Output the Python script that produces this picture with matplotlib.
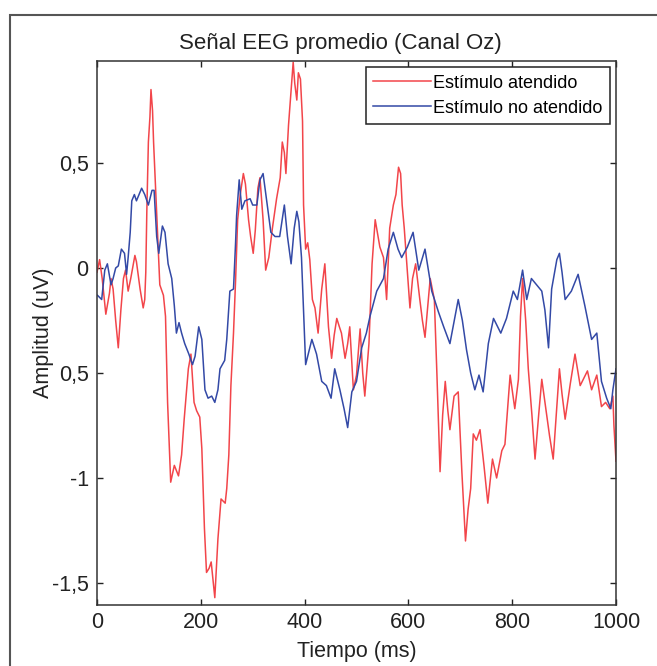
import matplotlib
matplotlib.use("Agg")
import matplotlib.pyplot as plt
from matplotlib.patches import Rectangle

plt.rcParams["font.family"] = ["Liberation Sans", "DejaVu Sans"]

# grand-average EEG, channel Oz (time in ms, amplitude in uV)
t_att = [0, 5, 10, 17, 24, 27, 31, 36, 41, 46, 51, 55, 60, 65, 73, 76, 83, 89, 92, 94,
         96, 99, 102, 104, 107, 109, 112, 115, 118, 121, 128, 132, 136, 142, 149, 157, 163, 168, 176, 181,
         187, 192, 198, 202, 207, 211, 216, 220, 224, 227, 233, 239, 247, 250, 254, 258, 263, 267, 271, 276,
         282, 286, 292, 296, 301, 305, 310, 314, 320, 325, 331, 338, 346, 353, 357, 361, 364, 369, 374, 378,
         381, 385, 388, 392, 396, 398, 402, 406, 410, 415, 420, 426, 433, 439, 446, 452, 457, 462, 467, 471,
         478, 483, 487, 494, 500, 507, 512, 516, 524, 530, 536, 545, 552, 558, 564, 571, 576, 581, 585, 588,
         592, 597, 603, 608, 614, 622, 627, 632, 642, 650, 655, 661, 666, 671, 676, 680, 688, 696, 703, 710,
         715, 720, 725, 731, 738, 746, 753, 762, 770, 780, 786, 796, 805, 812, 816, 820, 826, 831, 838, 844,
         851, 857, 866, 872, 879, 891, 896, 902, 912, 921, 931, 945, 953, 963, 972, 980, 988, 994, 996, 1000]
v_att = [-0.02, 0.04, -0.05, -0.22, -0.12, -0.05, -0.10, -0.25, -0.38, -0.20, -0.05, -0.01, -0.11, -0.05, 0.06, 0.03, -0.10, -0.19, -0.15, -0.02,
         0.27, 0.60, 0.72, 0.85, 0.75, 0.60, 0.43, 0.27, 0.09, -0.08, -0.13, -0.23, -0.64, -1.02, -0.94, -0.99, -0.89, -0.72, -0.48, -0.41,
         -0.64, -0.68, -0.71, -0.86, -1.24, -1.45, -1.43, -1.40, -1.50, -1.57, -1.29, -1.10, -1.12, -1.05, -0.89, -0.56, -0.31, -0.06, 0.23, 0.35,
         0.45, 0.40, 0.23, 0.15, 0.07, 0.18, 0.38, 0.43, 0.23, -0.01, 0.05, 0.19, 0.33, 0.43, 0.60, 0.55, 0.45, 0.68, 0.85, 0.98,
         0.88, 0.80, 0.93, 0.90, 0.70, 0.30, 0.09, 0.12, 0.04, -0.15, -0.19, -0.31, -0.10, 0.02, -0.28, -0.43, -0.32, -0.24, -0.28, -0.31,
         -0.43, -0.36, -0.28, -0.58, -0.51, -0.29, -0.50, -0.61, -0.36, 0.02, 0.23, 0.10, 0.05, -0.15, 0.19, 0.30, 0.35, 0.48, 0.45, 0.30,
         0.19, 0.02, -0.19, -0.05, 0.02, -0.15, -0.25, -0.33, -0.05, -0.15, -0.51, -0.97, -0.70, -0.54, -0.68, -0.77, -0.61, -0.59, -0.97, -1.30,
         -1.15, -1.05, -0.79, -0.82, -0.77, -0.95, -1.12, -0.91, -1.00, -0.87, -0.84, -0.51, -0.67, -0.53, -0.23, -0.05, -0.25, -0.48, -0.70, -0.91,
         -0.70, -0.53, -0.69, -0.80, -0.91, -0.48, -0.60, -0.72, -0.55, -0.41, -0.56, -0.49, -0.58, -0.51, -0.66, -0.64, -0.67, -0.61, -0.75, -0.92]

t_nat = [1, 9, 15, 20, 27, 31, 36, 41, 47, 53, 57, 60, 64, 67, 72, 76, 86, 92, 99, 106,
         110, 115, 119, 126, 131, 137, 144, 149, 153, 158, 163, 169, 177, 184, 189, 196, 202, 208, 214, 221,
         227, 233, 237, 246, 250, 256, 263, 267, 269, 274, 279, 285, 295, 300, 308, 314, 320, 327, 335, 343,
         352, 361, 367, 374, 380, 385, 389, 394, 398, 402, 414, 423, 433, 442, 451, 458, 468, 476, 483, 491,
         500, 510, 519, 526, 539, 552, 561, 571, 580, 587, 598, 609, 620, 632, 645, 658, 668, 680, 696, 704,
         712, 720, 728, 736, 744, 754, 764, 778, 789, 802, 810, 820, 828, 837, 857, 863, 870, 876, 886, 891,
         896, 902, 914, 927, 940, 953, 963, 972, 982, 990, 994, 1000]
v_nat = [-0.13, -0.15, -0.01, 0.02, -0.08, -0.05, 0.00, 0.01, 0.09, 0.07, -0.03, 0.05, 0.17, 0.32, 0.35, 0.32, 0.38, 0.35, 0.30, 0.37,
         0.37, 0.15, 0.07, 0.20, 0.17, 0.02, -0.05, -0.18, -0.31, -0.26, -0.31, -0.36, -0.41, -0.46, -0.42, -0.28, -0.34, -0.58, -0.62, -0.61,
         -0.64, -0.58, -0.48, -0.44, -0.34, -0.11, -0.10, 0.12, 0.25, 0.42, 0.28, 0.32, 0.33, 0.30, 0.30, 0.42, 0.45, 0.32, 0.17, 0.15,
         0.15, 0.30, 0.15, 0.02, 0.19, 0.27, 0.22, 0.05, -0.20, -0.46, -0.34, -0.41, -0.54, -0.56, -0.62, -0.48, -0.58, -0.67, -0.76, -0.59,
         -0.54, -0.38, -0.31, -0.23, -0.11, -0.05, 0.09, 0.17, 0.09, 0.05, 0.10, 0.17, -0.01, 0.09, -0.11, -0.21, -0.28, -0.36, -0.15, -0.25,
         -0.39, -0.50, -0.58, -0.51, -0.59, -0.36, -0.24, -0.31, -0.24, -0.11, -0.15, -0.01, -0.15, -0.05, -0.11, -0.20, -0.38, -0.10, 0.04, 0.07,
         -0.02, -0.15, -0.11, -0.03, -0.18, -0.34, -0.31, -0.54, -0.62, -0.67, -0.58, -0.48]

xticks = [0, 200, 400, 600, 800, 1000]
yticks = [0.5, 0, -0.5, -1, -1.5]
ytick_labels = ["0,5", "0", "0,5", "-1", "-1,5"]

fig = plt.figure(figsize=(6.57, 6.66), dpi=100)
ax = fig.add_axes([97/657, 1-605/666, (616-97)/657, (605-61)/666])

ax.plot(t_att, v_att, color="#f2454a", lw=1.1, label="Estímulo atendido")
ax.plot(t_nat, v_nat, color="#3349a6", lw=1.1, label="Estímulo no atendido")

ax.set_xlim(0, 1000)
ax.set_ylim(-1.605, 0.986)
ax.set_xticks(xticks)
ax.set_yticks(yticks)
ax.set_yticklabels(ytick_labels)
ax.tick_params(direction="in", top=True, right=True, length=4, width=1,
               labelsize=15.5, colors="#222222", pad=6)
ax.tick_params(axis="x", pad=5)
for s in ax.spines.values():
    s.set_color("#333333"); s.set_linewidth(1.1)

ax.set_title("Señal EEG promedio (Canal Oz)", fontsize=16, color="#222222", pad=9, x=0.468)
ax.set_xlabel("Tiempo (ms)", fontsize=15.5, color="#222222", labelpad=6)
ax.set_ylabel("Amplitud (uV)", fontsize=15.5, color="#222222")
ax.yaxis.set_label_coords(-0.083, 0.5)

leg = ax.legend(loc="upper right", fontsize=13, fancybox=False, framealpha=1,
                edgecolor="#222222", handlelength=3.2, handletextpad=0.1,
                borderpad=0.4, labelspacing=0.45, borderaxespad=0.35)
leg.get_frame().set_linewidth(1.1)

# outer frame of the figure panel
fig.add_artist(Rectangle((10/657, -0.05), 1.0, 1.05-15/666, transform=fig.transFigure,
                         fill=False, edgecolor="#555555", lw=1.5))

fig.savefig("out.png", dpi=100)
